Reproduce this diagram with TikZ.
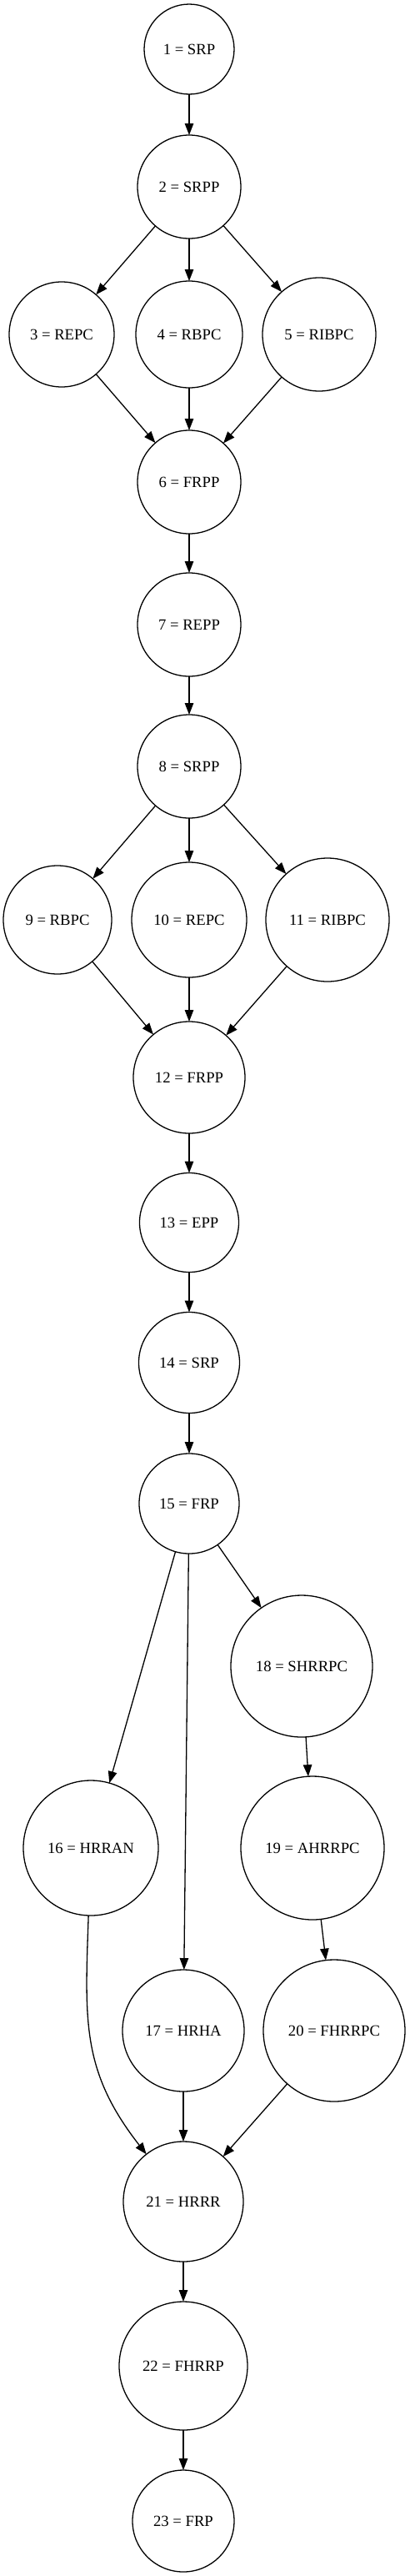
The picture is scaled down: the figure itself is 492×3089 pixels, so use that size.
\documentclass[tikz,border=0pt]{standalone}
\usepackage{fontspec}
\setmainfont{Liberation Serif}
\usepackage{tikz}
\usetikzlibrary {
  positioning,
  arrows.meta,
}
\tikzset{
  state/.style = {
    circle,
    draw = black,
    line width = 1.3pt,
    inner sep = 0pt,
    outer sep = 0pt,
    minimum size = #1,
    font = \fontsize{18.67}{22}\selectfont
  },
  line/.style = {
    -{Triangle[length = 14pt, width = 10.5pt]},
    line width = 1.3pt
  },
}

\begin{document}
\begin{tikzpicture}[x = 1pt, y = -1pt]
  \useasboundingbox (0,0) rectangle (492,3089);
  % first part
  \node[state = 108pt] (n1) at (227,59) {1 = SRP};
  \node[state = 124pt, below = 49pt of n1] (n2) {2 = SRPP};
  \node[state = 128pt, below = 51pt of n2] (n4) {4 = RBPC};
  \node[state = 126pt, left = 26pt of n4] (n3) {3 = REPC};
  \node[state = 136pt, right = 24pt of n4] (n5) {5 = RIBPC};
  \node[state = 124pt, below = 51pt of n4] (n6) {6 = FRPP};
  \node[state = 124pt, below = 47pt of n6] (n7) {7 = REPP};
  \node[state = 124pt, below = 46pt of n7] (n8) {8 = SRPP};
  \node[state = 138pt, below = 53pt of n8] (n10) {10 = REPC};
  \node[state = 130pt, left = 24pt of n10] (n9) {9 = RBPC};
  \node[state = 148pt, right = 23pt of n10] (n11) {11 = RIBPC};
  \node[state = 134pt, below = 53pt of n10] (n12) {12 = FRPP};
  \node[state = 119pt, below = 47.5pt of n12] (n13) {13 = EPP};
  \node[state = 121pt, below = 48pt of n13] (n14) {14 = SRP};
  \node[state = 120pt, below = 48.5pt of n14] (n15) {15 = FRP};
  % branches
  \node[state = 170pt] (n18) at (362,1998) {18 = SHRRPC};
  \node[state = 162pt] (n16) at (109,2216) {16 = HRRAN};
  \node[state = 172pt] (n19) at (375,2216) {19 = AHRRPC};
  \node[state = 146pt] (n17) at (220,2435) {17 = HRHA};
  \node[state = 170pt] (n20) at (401,2435) {20 = FHRRPC};
  \node[state = 144pt] (n21) at (220,2640) {21 = HRRR};
  \node[state = 154pt, below = 48pt of n21] (n22) {22 = FHRRP};
  \node[state = 122pt, below = 48pt of n22] (n23) {23 = FRP};
  % edges
  \draw[line] (n1) to (n2);
  \draw[line] (n2) to (n3);
  \draw[line] (n2) to (n4);
  \draw[line] (n2) to (n5);
  \draw[line] (n3) to (n6);
  \draw[line] (n4) to (n6);
  \draw[line] (n5) to (n6);
  \draw[line] (n6) to (n7);
  \draw[line] (n7) to (n8);
  \draw[line] (n8) to (n9);
  \draw[line] (n8) to (n10);
  \draw[line] (n8) to (n11);
  \draw[line] (n9) to (n12);
  \draw[line] (n10) to (n12);
  \draw[line] (n11) to (n12);
  \draw[line] (n12) to (n13);
  \draw[line] (n13) to (n14);
  \draw[line] (n14) to (n15);
  \draw[line] (n15) to (n16);
  \draw[line] (n15) to (n17);
  \draw[line] (n15) to (n18);
  \draw[line] (n18) to (n19);
  \draw[line] (n19) to (n20);
  \draw[line] (n16) to[out = -92, in = 128, looseness = 1.1] (n21);
  \draw[line] (n17) to (n21);
  \draw[line] (n20) to (n21);
  \draw[line] (n21) to (n22);
  \draw[line] (n22) to (n23);
\end{tikzpicture}
\end{document}
